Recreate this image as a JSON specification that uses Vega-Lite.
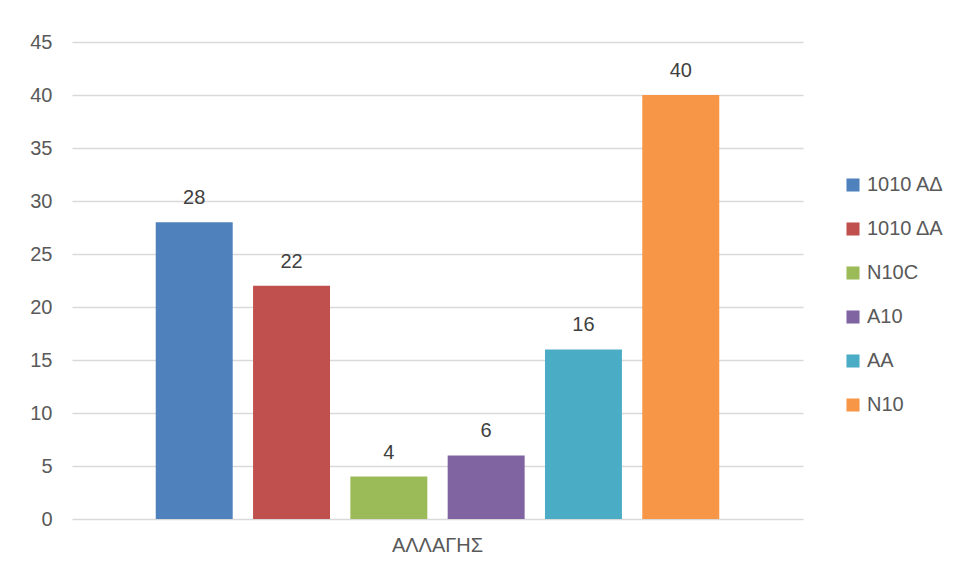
{
  "$schema": "https://vega.github.io/schema/vega-lite/v6.json",
  "width": 731,
  "height": 477,
  "autosize": "none",
  "padding": {"left": 72, "top": 42, "right": 155, "bottom": 54},
  "background": "white",
  "config": {"view": {"stroke": null}},
  "data": {
    "values": [
      {"group": "ΑΛΛΑΓΗΣ", "series": "1010 ΑΔ", "value": 28},
      {"group": "ΑΛΛΑΓΗΣ", "series": "1010 ΔΑ", "value": 22},
      {"group": "ΑΛΛΑΓΗΣ", "series": "N10C", "value": 4},
      {"group": "ΑΛΛΑΓΗΣ", "series": "A10", "value": 6},
      {"group": "ΑΛΛΑΓΗΣ", "series": "AA", "value": 16},
      {"group": "ΑΛΛΑΓΗΣ", "series": "N10", "value": 40}
    ]
  },
  "encoding": {
    "x": {
      "field": "group",
      "type": "nominal",
      "scale": {"paddingInner": 0, "paddingOuter": 0.126},
      "axis": {
        "title": null,
        "labelAngle": 0,
        "ticks": false,
        "domain": false,
        "labelPadding": 16,
        "labelFontSize": 20,
        "labelColor": "#595959",
        "labelFont": "Liberation Sans"
      }
    },
    "xOffset": {
      "field": "series",
      "type": "nominal",
      "sort": ["1010 ΑΔ", "1010 ΔΑ", "N10C", "A10", "AA", "N10"],
      "scale": {"paddingInner": 0.209, "paddingOuter": 0.1045}
    },
    "y": {
      "field": "value",
      "type": "quantitative",
      "scale": {"domain": [0, 45], "nice": false},
      "axis": {
        "title": null,
        "values": [0, 5, 10, 15, 20, 25, 30, 35, 40, 45],
        "ticks": false,
        "domain": false,
        "gridColor": "#d9d9d9",
        "gridWidth": 1.3,
        "labelPadding": 20,
        "labelFontSize": 20,
        "labelColor": "#595959",
        "labelFont": "Liberation Sans"
      }
    }
  },
  "layer": [
    {
      "mark": {"type": "bar"},
      "encoding": {
        "color": {
          "field": "series",
          "type": "nominal",
          "sort": ["1010 ΑΔ", "1010 ΔΑ", "N10C", "A10", "AA", "N10"],
          "scale": {
            "domain": ["1010 ΑΔ", "1010 ΔΑ", "N10C", "A10", "AA", "N10"],
            "range": ["#4F81BD", "#C0504D", "#9BBB59", "#8064A2", "#4BACC6", "#F79646"]
          },
          "legend": {
            "title": null,
            "orient": "none",
            "legendX": 771,
            "legendY": 133,
            "symbolType": "square",
            "symbolSize": 170,
            "symbolStrokeWidth": 0,
            "symbolOpacity": 1,
            "labelFontSize": 20,
            "labelColor": "#595959",
            "labelFont": "Liberation Sans",
            "labelOffset": 4,
            "rowPadding": 24
          }
        }
      }
    },
    {
      "mark": {
        "type": "text",
        "baseline": "alphabetic",
        "dy": -18,
        "fontSize": 20,
        "font": "Liberation Sans",
        "color": "#404040"
      },
      "encoding": {
        "text": {"field": "value", "type": "quantitative"}
      }
    }
  ]
}
